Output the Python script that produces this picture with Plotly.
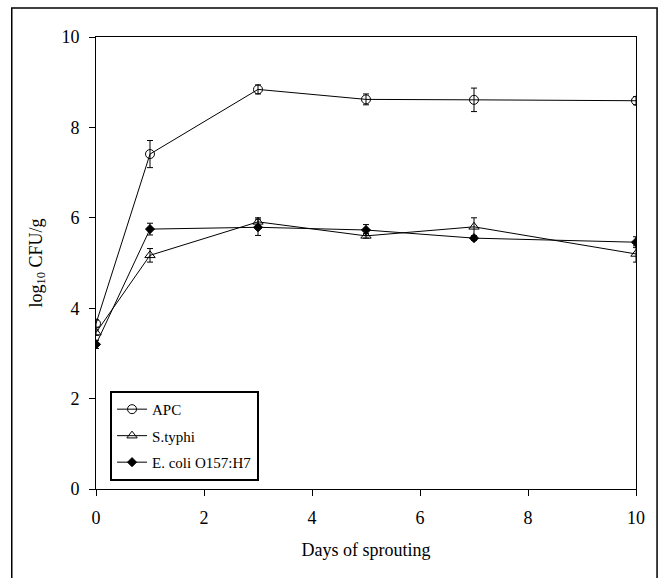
import plotly.graph_objects as go

days = [0, 1, 3, 5, 7, 10]

apc = [3.66, 7.41, 8.84, 8.62, 8.61, 8.59]
apc_err = [0.08, 0.30, 0.10, 0.12, 0.26, 0.09]

styphi = [3.46, 5.17, 5.91, 5.60, 5.80, 5.20]
styphi_err = [0.06, 0.15, 0.09, 0.05, 0.20, 0.18]

ecoli = [3.20, 5.75, 5.79, 5.73, 5.55, 5.46]
ecoli_err = [0.09, 0.13, 0.18, 0.12, 0.05, 0.12]

names = ["APC", "S.typhi", "E. coli O157:H7"]
symbols = ["circle-open", "triangle-up-open", "diamond"]
sizes = [9, 9, 7]

fig = go.Figure()
for i, (y, e) in enumerate([(apc, apc_err), (styphi, styphi_err), (ecoli, ecoli_err)]):
    fig.add_trace(go.Scatter(
        x=days, y=y, name=names[i], legendgroup=names[i],
        mode="lines+markers",
        line=dict(color="black", width=1),
        marker=dict(symbol=symbols[i], size=sizes[i], color="black",
                    line=dict(color="black", width=1)),
        error_y=dict(type="data", array=e, visible=True, color="black",
                     thickness=1, width=3),
    ))

font_family = "Liberation Serif, Times New Roman, serif"

fig.update_layout(
    width=666, height=578,
    margin=dict(l=96, r=30, t=37, b=89),
    paper_bgcolor="white", plot_bgcolor="white",
    font=dict(family=font_family, color="black", size=17),
    showlegend=True,
    legend=dict(
        x=0.026, y=0.217, xanchor="left", yanchor="top",
        bgcolor="white", bordercolor="black", borderwidth=2,
        font=dict(family=font_family, size=15, color="black"),
        tracegroupgap=4, itemwidth=30,
    ),
    xaxis=dict(
        range=[0, 10], tickmode="array", tickvals=[0, 2, 4, 6, 8, 10],
        showgrid=False, zeroline=False, showline=True, linecolor="black",
        linewidth=1, mirror=True, ticks="outside", ticklen=6, tickcolor="black",
        ticklabelstandoff=6,
        title=dict(text="Days of sprouting", standoff=16,
                   font=dict(family=font_family, size=18)),
        tickfont=dict(family=font_family, size=18),
    ),
    yaxis=dict(
        range=[0, 10], tickmode="array", tickvals=[0, 2, 4, 6, 8, 10],
        showgrid=False, zeroline=False, showline=True, linecolor="black",
        linewidth=1, mirror=True, ticks="outside", ticklen=6, tickcolor="black",
        ticklabelstandoff=6,
        title=dict(text="log<sub>10</sub> CFU/g", standoff=14,
                   font=dict(family=font_family, size=18)),
        tickfont=dict(family=font_family, size=18),
    ),
    shapes=[dict(type="rect", xref="paper", yref="paper",
                 x0=-0.156, x1=1.039, y0=-0.25, y1=1.064,
                 line=dict(color="black", width=1.5), fillcolor="rgba(0,0,0,0)")],
)

fig.write_html("out.html")
